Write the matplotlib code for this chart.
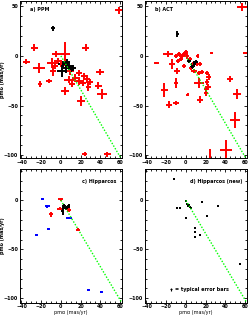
import numpy as np
import matplotlib
matplotlib.use('Agg')
import matplotlib.pyplot as plt
from matplotlib.ticker import MultipleLocator

plt.rcParams['font.family'] = ['DejaVu Sans']
plt.rcParams['font.size'] = 3.5
plt.rcParams['font.weight'] = 'bold'

# panel labels
titles = ['a) PPM', 'b) ACT', 'c) Hipparcos', 'd) Hipparcos (new)']

# a) red points: x, y, xerr, yerr
a_red_x = [59, -27, 25, -35, -22, -5, 4, -9, -8, -12, -21, 9, 8, 11, 4, 18, 23, 18, 26, 28,
           40, 38, 42, 20, 24, 47, -3, -6, 14, 22, 30, 0]
a_red_y = [46, 8, 8, -6, -12, 2, 2, -7, -15, -25, -28, -15, -24, -28, -35, -17, -20, -25, -23, -31,
           -16, -30, -38, -45, -99, -99, -5, -10, -22, -27, -26, -8]
a_red_xerr = [4, 3.5, 3.5, 3.5, 6, 4, 5, 5, 3, 3, 2, 4, 5, 3, 4, 3, 3, 3, 4, 3,
              4, 3.5, 5, 4, 2.5, 3.5, 4, 3, 3, 3, 3, 3]
a_red_yerr = [3.5, 3.5, 3.5, 2.5, 5, 3, 12, 5, 5, 2, 3, 4, 3.5, 3, 4, 3, 3, 4, 4, 4,
              3, 3.5, 5, 5, 2, 2.5, 3, 3, 4, 3, 3, 3]
a_blk_x = [-8, 2, 5, 8, 10, 1, 6, 12]
a_blk_y = [28, -8, -12, -10, -13, -15, -6, -12]
a_blk_xerr = [2.5, 5, 3, 4, 3, 5, 3, 3]
a_blk_yerr = [2.5, 3, 5, 4, 3, 6, 3, 3]

# b) red points
b_red_x = [57, -18, -30, -14, -9, -10, -22, -17, -10, 2, 14, 13, 21, 20, 22, 20, 23, 21, 45, 52,
           50, 41, 24, 26, 62, -10, -7, -2, 0, -5, -8, 4, 7, 11, -2, 5, 14, 12, 8, 13, 16, -4, 1]
b_red_y = [49, 2, -7, -8, -15, -27, -34, -49, -47, -39, -44, -27, -26, -33, -31, -37, -21, -17, -23, -38,
           -65, -95, -102, 3, 3, 0, 2, 2, 4, -3, -5, -3, -8, -8, -10, -12, -8, 0, -15, -17, -16, 0, 0]
b_red_xerr = [5, 5, 2.5, 3, 3, 2, 3.5, 3, 3, 1.5, 3, 5, 2, 2, 3, 2, 2.5, 2, 3, 4,
              5, 6, 1, 1.5, 4, 2, 2, 2, 2, 2, 2, 2, 2, 2, 2, 2, 2, 1.5, 3, 2, 2, 3, 2]
b_red_yerr = [4, 3, 1, 5, 3, 5, 7, 4, 2, 1.5, 3.5, 5, 3, 3, 3, 3.5, 3, 2, 3, 5,
              8, 10, 8, 1, 1, 2, 2, 2, 2, 2, 2, 2, 2, 2, 2, 2, 2, 2, 2, 2, 2, 2, 3]
b_blk_x = [-9, 3, 8, 6, 10]
b_blk_y = [22, -5, -8, -11, -6]
b_blk_xerr = [1.5, 2, 3, 2, 2]
b_blk_yerr = [3.5, 2, 3, 2, 2]

# c) blue, red and black points
c_blu_x = [-19, -14, -25, -13, 8, 28, 41]
c_blu_y = [1, -6, -35, -29, -18, -92, -94]
c_blu_xerr = [1.5, 2.5, 1.5, 1.5, 3, 1.5, 1.5]
c_blu_yerr = [0.5, 1.5, 0.5, 1, 1.5, 1, 1]
c_red_x = [0, -1, -10, 8, 17]
c_red_y = [1, -8.5, -14, -10, -30]
c_red_xerr = [2.5, 2.5, 2, 2, 2]
c_red_yerr = [1.5, 1.5, 2.5, 2, 1.5]
c_blk_x = [3, 5, 8, 2, 6]
c_blk_y = [-6, -8, -6, -11, -7]
c_blk_xerr = [2, 2, 1.5, 1.5, 2.5]
c_blk_yerr = [2, 2, 2, 4, 1.5]

# d) black points
d_blk_x = [-12, 0, 1, 2, 3, 5, -6, -9, 16, 33, 0, 21, 9, 9, 14, 9, 55, 4]
d_blk_y = [22, -1, -4, -6, -5, -8, -7.5, -7.5, -2, -6, -18, -16, -28, -32, -35, -37, -65, -7]
d_err_x = [-15]
d_err_y = [-91]

# convergent direction line
line_x = [0, 62]
line_y = [0, -105]

fig = plt.figure(figsize=(2.5, 3.15), dpi=100)
left = [0.078, 0.578]
w = 0.41
axs = [fig.add_axes([left[0], 0.498, w, 0.498]),
       fig.add_axes([left[1], 0.498, w, 0.498]),
       fig.add_axes([left[0], 0.038, w, 0.425]),
       fig.add_axes([left[1], 0.038, w, 0.425])]

ekw = dict(fmt='s', ms=1.8, capsize=0, elinewidth=1.4, mew=0)

axs[0].errorbar(a_red_x, a_red_y, xerr=a_red_xerr, yerr=a_red_yerr, color='red', **ekw)
axs[0].errorbar(a_blk_x, a_blk_y, xerr=a_blk_xerr, yerr=a_blk_yerr, color='black', **ekw)
axs[1].errorbar(b_red_x, b_red_y, xerr=b_red_xerr, yerr=b_red_yerr, color='red', **ekw)
axs[1].errorbar(b_blk_x, b_blk_y, xerr=b_blk_xerr, yerr=b_blk_yerr, color='black', **ekw)
axs[2].errorbar(c_blu_x, c_blu_y, xerr=c_blu_xerr, yerr=c_blu_yerr, color='blue', **ekw)
axs[2].errorbar(c_red_x, c_red_y, xerr=c_red_xerr, yerr=c_red_yerr, color='red', **ekw)
axs[2].errorbar(c_blk_x, c_blk_y, xerr=c_blk_xerr, yerr=c_blk_yerr, color='black', **ekw)
axs[3].plot(d_blk_x, d_blk_y, 's', color='black', ms=1.5, mew=0)
axs[3].errorbar(d_err_x, d_err_y, xerr=1.2, yerr=1.2, color='black', fmt='none',
                capsize=0, elinewidth=0.8)
axs[3].text(-11, -91, '= typical error bars', va='center', ha='left')

for i, ax in enumerate(axs):
    ax.plot(line_x, line_y, ls=(0, (1, 1.2)), color='#00ff00', lw=1.0, clip_on=True)
    ax.set_xlim(-42, 62)
    if i < 2:
        ax.set_ylim(-103, 55)
        ax.set_yticks([50, 0, -50, -100])
    else:
        ax.set_ylim(-105, 32)
        ax.set_yticks([0, -50, -100])
        ax.set_xlabel('pmα (mas/yr)', labelpad=0.5)
    ax.set_xticks([-40, -20, 0, 20, 40, 60])
    ax.xaxis.set_minor_locator(MultipleLocator(5))
    ax.yaxis.set_minor_locator(MultipleLocator(10))
    ax.tick_params(which='both', direction='in', top=True, right=True, width=0.6, pad=1)
    ax.tick_params(which='major', length=2.5)
    ax.tick_params(which='minor', length=1.3)
    for s in ax.spines.values():
        s.set_linewidth(0.7)

# y labels placed inside the figure edge
fig.text(0.012, 0.498 + 0.498 / 2, 'pmδ (mas/yr)', rotation=90, va='center', ha='center')
fig.text(0.012, 0.038 + 0.425 / 2, 'pmδ (mas/yr)', rotation=90, va='center', ha='center')

axs[0].text(0.1, 0.94, titles[0], transform=axs[0].transAxes)
axs[1].text(0.1, 0.94, titles[1], transform=axs[1].transAxes)
axs[2].text(0.95, 0.9, titles[2], transform=axs[2].transAxes, ha='right')
axs[3].text(0.95, 0.9, titles[3], transform=axs[3].transAxes, ha='right')

fig.savefig('out.png', dpi=100)
